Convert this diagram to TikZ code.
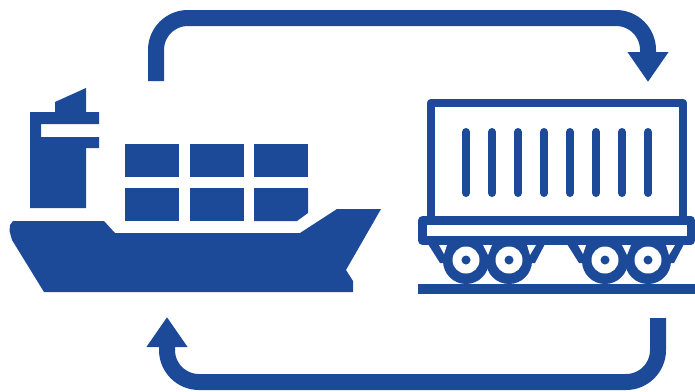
\documentclass[tikz,border=0pt]{standalone}
\usepackage{xcolor}
\usetikzlibrary{arrows.meta}
\definecolor{shipblue}{HTML}{1C4A98}

\begin{document}
\begin{tikzpicture}[
  x=1pt, y=-1pt,
  solid part/.style={fill=shipblue},
  wagon line/.style={draw=shipblue, line width=8.5pt, line join=round},
  loop arrow/.style={draw=shipblue, line width=16pt, rounded corners=32pt, -{Triangle[length=30pt, width=39pt]}}
]
\useasboundingbox (0,0) rectangle (695,391);

% arrows
\coordinate (ship top) at (156,81);
\coordinate (top left) at (156,18);
\coordinate (top right) at (648,18);
\coordinate (wagon top) at (648,82);
\coordinate (wagon bottom) at (658,318);
\coordinate (bottom right) at (658,382);
\coordinate (bottom left) at (167,382);
\coordinate (ship bottom) at (167,317);
\draw[loop arrow] (ship top) -- (top left) -- (top right) -- (wagon top);
\draw[loop arrow] (wagon bottom) -- (bottom right) -- (bottom left) -- (ship bottom);

% ship
\fill[solid part] (104,221) -- (115,233) -- (300,233) -- (337,209) -- (381,209) -- (346,270)
  -- (353,281) -- (353,292) -- (44,292) -- (12,240) -- (9.5,231) -- (10,225) -- (13,221) -- cycle;
\fill[solid part] (30,112) -- (55,112) -- (55,102) -- (86,88) -- (86,112) -- (99,112) -- (99,124)
  -- (41,124) -- (41,137) -- (99,137) -- (99,148) -- (86,148) -- (86,208) -- (30,208) -- cycle;

% containers
\foreach \x in {125,190,254} \fill[solid part] (\x,144) rectangle ++(54,33);
\foreach \x in {125,190} \fill[solid part] (\x,188) rectangle ++(54,33);
\fill[solid part] (254,188) -- (308,188) -- (308,213) -- (297,221) -- (254,221) -- cycle;

% wagon
\draw[wagon line] (431,103) rectangle (683,220);
\foreach \x in {466,492,518,544,570,596,622,648}
  \draw[shipblue, line width=8pt, line cap=round] (\x,132) -- (\x,193);
\draw[wagon line] (422.5,220.5) rectangle (691,240.5);

% bogie: x shift
\def\bogie#1{%
  \begin{scope}[xshift=#1pt]
    \fill[solid part] (428,244) -- (440,263) -- (535,263) -- (545,244) -- cycle;
    \foreach \x in {466,509} \fill[solid part] (\x,261) circle (23);
    \fill[white] (439,245) -- (447,245) -- (444,254) -- cycle;
    \fill[white] (483,245) -- (492,245) -- (488,255) -- cycle;
    \fill[white] (527,245) -- (536,245) -- (530,255) -- cycle;
    \foreach \x in {466,509} {
      \fill[white] (\x,260) circle (13.5);
      \fill[solid part] (\x,260) circle (4.5);
    }
  \end{scope}
}
\bogie{0}
\bogie{139}

% rail
\fill[solid part] (418,284) rectangle (695,294);
\end{tikzpicture}
\end{document}
